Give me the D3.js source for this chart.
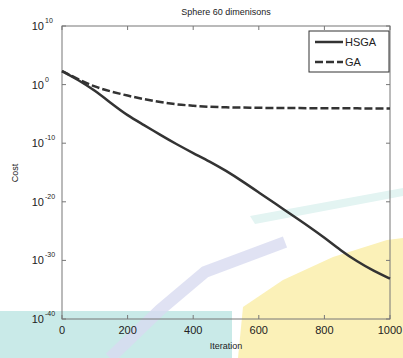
<!DOCTYPE html>
<html><head><meta charset="utf-8">
<script src="https://cdn.jsdelivr.net/npm/d3@7"></script>
<style>body{margin:0;background:#fff}svg{display:block}text{font-family:"Liberation Sans",Arial,sans-serif;fill:#222}</style>
</head><body><svg id="c" width="403" height="358"></svg>
<script>
const iterations = [0,50,100,150,200,250,300,350,400,450,500,550,600,650,700,750,800,850,900,950,1000];
const hsga = [2.0e2,6.3e0,1.0e-1,6.3e-4,5.0e-6,1.3e-7,2.5e-9,6.3e-11,2.0e-12,7.9e-14,2.0e-15,3.2e-17,4.0e-19,5.0e-21,6.3e-23,7.9e-25,7.9e-27,5.0e-29,6.3e-31,1.6e-32,7.9e-34];
const ga = [2.0e2,7.9e0,4.0e-1,6.3e-2,1.3e-2,3.2e-3,1.0e-3,4.0e-4,2.5e-4,1.6e-4,1.3e-4,1.2e-4,1.1e-4,1.0e-4,1.0e-4,9.5e-5,9.3e-5,9.0e-5,8.8e-5,8.5e-5,8.3e-5];
const xTicks = [0,200,400,600,800,1000];
const yExps = [10,0,-10,-20,-30,-40];
const title = "Sphere 60 dimenisons";
const xLabel = "Iteration", yLabel = "Cost";
const seriesNames = ["HSGA","GA"];

const svg = d3.select("#c");
// scan watermark tints
svg.append("rect").attr("x",0).attr("y",311).attr("width",232).attr("height",47).attr("fill","#c9eae8");
svg.append("path").attr("d","M250,216 L403,188 L403,196 L255,224 Z").attr("fill","#e3f4f2");
svg.append("path").attr("d","M238,358 L243,307 L283,280 L333,257 L387,240 L403,238 L403,358 Z").attr("fill","#fbf1b8");
svg.append("path").attr("d","M110,358 L160,310 L205,272 L285,242").attr("fill","none").attr("stroke","#d8dbf0").attr("stroke-width",12).attr("opacity",0.8);

const m = {l:62, r:390, t:26, b:319};
const x = d3.scaleLinear().domain([0,1000]).range([m.l,m.r]);
const y = d3.scaleLog().domain([1e-40,1e10]).range([m.b,m.t]);

const g = svg.append("g");
g.append("rect").attr("x",m.l).attr("y",m.t).attr("width",m.r-m.l).attr("height",m.b-m.t)
 .attr("fill","none").attr("stroke","#777").attr("stroke-width",1);
xTicks.forEach(t=>{
  g.append("line").attr("x1",x(t)).attr("x2",x(t)).attr("y1",m.b).attr("y2",m.b-4).attr("stroke","#777");
  g.append("line").attr("x1",x(t)).attr("x2",x(t)).attr("y1",m.t).attr("y2",m.t+4).attr("stroke","#777");
  g.append("text").attr("x",x(t)).attr("y",m.b+15).attr("text-anchor","middle").attr("font-size",11).text(t);
});
yExps.forEach(e=>{
  const yy = y(Math.pow(10,e));
  g.append("line").attr("x1",m.l).attr("x2",m.l+4).attr("y1",yy).attr("y2",yy).attr("stroke","#777");
  g.append("line").attr("x1",m.r).attr("x2",m.r-4).attr("y1",yy).attr("y2",yy).attr("stroke","#777");
  g.append("text").attr("x",44).attr("y",yy+4).attr("text-anchor","end").attr("font-size",11).text("10");
  g.append("text").attr("x",45).attr("y",yy-3).attr("font-size",7).text(e);
});
g.append("text").attr("x",226).attr("y",15).attr("text-anchor","middle").attr("font-size",9).text(title);
g.append("text").attr("x",226).attr("y",349).attr("text-anchor","middle").attr("font-size",9).text(xLabel);
g.append("text").attr("transform","translate(18,173) rotate(-90)").attr("text-anchor","middle").attr("font-size",9).text(yLabel);

const line = d3.line().x((d,i)=>x(iterations[i])).y(d=>y(d)).curve(d3.curveBasis);
g.append("path").datum(ga).attr("d",line).attr("fill","none").attr("stroke","#333").attr("stroke-width",2.5).attr("stroke-dasharray","8,3");
g.append("path").datum(hsga).attr("d",line).attr("fill","none").attr("stroke","#333").attr("stroke-width",2.5);

const lg = g.append("g");
lg.append("rect").attr("x",309).attr("y",31).attr("width",80).attr("height",41).attr("fill","#fff").attr("stroke","#333").attr("stroke-width",1);
seriesNames.forEach((n,i)=>{
  const ly = 42 + i*20;
  lg.append("line").attr("x1",315).attr("x2",343).attr("y1",ly).attr("y2",ly).attr("stroke","#333").attr("stroke-width",2.5)
    .attr("stroke-dasharray", i===1 ? "8,3" : null);
  lg.append("text").attr("x",345).attr("y",ly+4).attr("font-size",11).text(n);
});
</script></body></html>
